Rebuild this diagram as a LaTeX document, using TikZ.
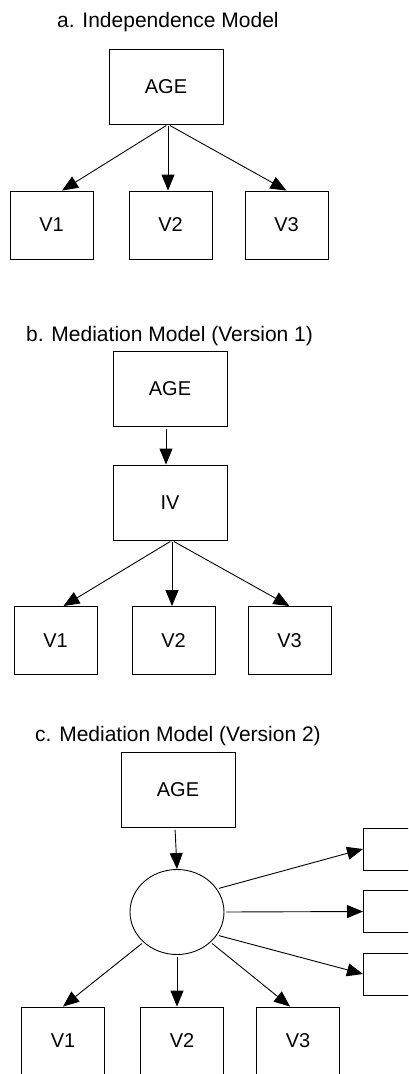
\documentclass[tikz,border=0pt]{standalone}
\usepackage{fontspec}
\setmainfont{Liberation Sans}
\usetikzlibrary{arrows.meta,shapes.geometric}
\begin{document}
\begin{tikzpicture}[x=1pt,y=-1pt,
    box/.style={draw,line width=0.9pt,inner sep=0pt,font=\fontsize{20}{24}\selectfont},
    bigbox/.style={box,minimum width=114pt,minimum height=75pt},
    vbox/.style={box,minimum width=83pt,minimum height=68pt},
    title/.style={anchor=base west,inner sep=0pt,font=\fontsize{21}{25}\selectfont},
    arr/.style={line width=0.9pt,-{Triangle[length=16pt,width=13pt]},shorten <=2pt}]
  \clip (0,0) rectangle (408,1074);
  % a. independence model:
  \node[title] (titleA) at (57,27) {a. Independence Model};
  \node[bigbox] (ageA) at (166,86.5) {AGE};
  \node[vbox] (v1A) at (51.5,225) {V1};
  \node[vbox] (v2A) at (170.5,225) {V2};
  \node[vbox] (v3A) at (286.5,225) {V3};
  \coordinate (hubA) at ([xshift=2pt]ageA.south);
  \draw[arr] (hubA) -- (v1A.73);
  \draw[arr] (hubA) -- (hubA |- v2A.north);
  \draw[arr] (hubA) -- (v3A.north);
  % b. mediation model, version 1:
  \node[title] (titleB) at (26,341) {b. Mediation Model (Version 1)};
  \node[bigbox] (ageB) at (170,389) {AGE};
  \node[bigbox] (ivB) at (170,502.5) {IV};
  \node[vbox] (v1B) at (55.5,640.5) {V1};
  \node[vbox] (v2B) at (173.5,640.5) {V2};
  \node[vbox] (v3B) at (289.5,640.5) {V3};
  \draw[arr] ([xshift=-4pt]ageB.south) -- ([xshift=-4pt]ivB.north);
  \coordinate (hubB) at ([xshift=2pt]ivB.south);
  \draw[arr] (hubB) -- (v1B.77);
  \draw[arr] (hubB) -- (hubB |- v2B.north);
  \draw[arr] (hubB) -- (v3B.north);
  % c. mediation model, version 2:
  \node[title] (titleC) at (35,741) {c. Mediation Model (Version 2)};
  \node[bigbox] (ageC) at (178,790) {AGE};
  \node[draw,ellipse,line width=0.9pt,minimum width=94pt,minimum height=85pt,inner sep=0pt] (lat) at (177,912) {};
  \node[box,anchor=west,minimum width=90pt,minimum height=42pt] (r1C) at (363,849) {};
  \node[box,anchor=west,minimum width=90pt,minimum height=42pt] (r2C) at (363,911.5) {};
  \node[box,anchor=west,minimum width=90pt,minimum height=42pt] (r3C) at (363,974) {};
  \node[vbox] (v1C) at (63,1041) {V1};
  \node[vbox] (v2C) at (182,1041) {V2};
  \node[vbox] (v3C) at (298,1041) {V3};
  \draw[arr] ([xshift=-3pt]ageC.south) -- (lat.north);
  \draw[arr] (lat.30) -- (r1C.west);
  \draw[arr] (lat.east) -- (r2C.west);
  \draw[arr] (lat.-30) -- (r3C.west);
  \draw[arr] (lat.-138) -- (v1C.north);
  \draw[arr] (lat.south) -- (lat.south |- v2C.north);
  \draw[arr] (lat.-42) -- (v3C.103);
\end{tikzpicture}
\end{document}
